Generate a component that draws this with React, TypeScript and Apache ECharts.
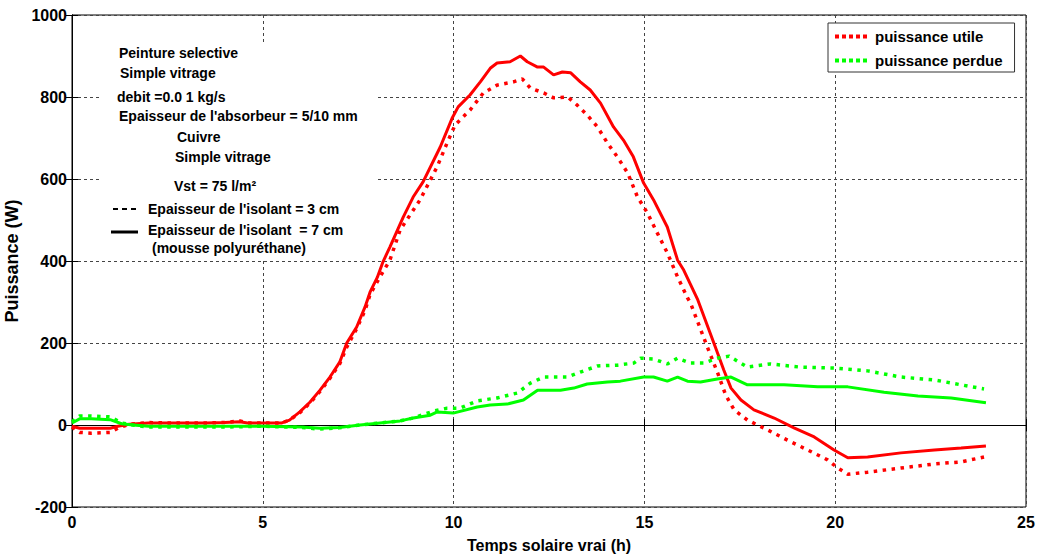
import React, { useEffect, useRef } from "react";
import * as echarts from "echarts";

// [time (h), power (W)]
const utile7cm: [number, number][] = [
  [0, -3], [0.2, -8], [0.5, -8], [1.0, -8], [1.2, -3], [1.5, 2], [2.0, 5], [2.5, 5], [3.0, 5], [3.5, 5],
  [4.0, 6], [4.4, 8], [4.6, 5], [5.0, 5], [5.5, 5], [5.7, 12], [5.97, 32], [6.24, 56], [6.5, 85], [6.76, 117],
  [7.02, 154], [7.2, 200], [7.46, 239], [7.68, 288], [7.81, 324], [8.0, 360], [8.15, 398], [8.33, 434],
  [8.68, 507], [8.94, 556], [9.2, 593], [9.65, 678], [9.96, 748], [10.12, 776], [10.43, 805], [10.7, 837],
  [10.96, 870], [11.14, 883], [11.48, 886], [11.75, 900], [11.93, 886], [12.2, 873], [12.36, 873],
  [12.62, 854], [12.85, 861], [13.07, 859], [13.32, 837], [13.58, 817], [13.85, 785], [14.19, 727],
  [14.45, 695], [14.71, 654], [14.98, 590], [15.24, 549], [15.6, 483], [15.87, 402], [16.03, 378],
  [16.4, 305], [16.82, 200], [17.08, 134], [17.27, 90], [17.53, 61], [17.87, 37], [18.4, 17], [18.92, -7],
  [19.45, -29], [19.97, -61], [20.33, -80], [20.85, -78], [21.72, -68], [22.6, -61], [23.3, -56], [23.95, -51],
];

const utile3cm: [number, number][] = [
  [0, -5], [0.2, -18], [0.5, -20], [1.0, -18], [1.2, -8], [1.5, 2], [2.0, 6], [2.5, 5], [3.0, 5], [3.5, 5],
  [4.0, 6], [4.4, 10], [4.6, 5], [5.0, 5], [5.5, 5], [5.7, 12], [5.97, 30], [6.24, 54], [6.5, 82], [6.76, 114],
  [7.02, 150], [7.2, 190], [7.46, 235], [7.68, 280], [7.81, 318], [8.07, 361], [8.33, 402], [8.6, 476],
  [9.12, 549], [9.57, 630], [9.83, 688], [10.04, 732], [10.43, 768], [10.78, 810], [11.14, 829], [11.57, 837],
  [11.8, 844], [12.01, 822], [12.36, 810], [12.62, 798], [12.99, 800], [13.24, 780], [13.5, 756], [13.77, 727],
  [14.03, 688], [14.29, 654], [14.56, 615], [14.82, 556], [15.08, 517], [15.34, 468], [15.6, 420], [15.87, 361],
  [16.13, 310], [16.21, 297], [16.65, 190], [16.92, 127], [17.13, 73], [17.35, 37], [17.7, 12], [18.23, -12],
  [18.75, -37], [19.28, -61], [19.8, -85], [20.07, -105], [20.33, -120], [20.85, -115], [21.72, -105],
  [22.6, -95], [23.3, -90], [23.9, -78],
];

const perdue7cm: [number, number][] = [
  [0, 5], [0.2, 15], [0.5, 15], [1.0, 13], [1.3, 3], [1.6, 0], [2.0, -3], [3.0, -3], [4.0, -3], [5.0, -3],
  [6.0, -5], [6.5, -8], [7.0, -6], [7.55, 0], [8.07, 5], [8.6, 10], [8.94, 17], [9.39, 24], [9.57, 32],
  [9.99, 29], [10.62, 44], [10.96, 49], [11.4, 51], [11.83, 61], [12.2, 85], [12.8, 85], [13.15, 90],
  [13.5, 100], [14.03, 105], [14.37, 107], [14.98, 117], [15.24, 117], [15.6, 107], [15.87, 117],
  [16.13, 107], [16.47, 105], [16.91, 112], [17.27, 117], [17.7, 98], [18.66, 98], [19.54, 93], [20.33, 93],
  [21.28, 80], [22.17, 71], [23.04, 66], [23.95, 54],
];

const perdue3cm: [number, number][] = [
  [0, 8], [0.2, 22], [0.5, 22], [1.0, 20], [1.3, 5], [1.6, 0], [2.0, -5], [3.0, -5], [4.0, -5], [5.0, -3],
  [6.0, -6], [6.5, -10], [7.0, -7], [7.55, 0], [8.07, 5], [8.6, 10], [8.94, 17], [9.48, 34], [9.83, 41],
  [10.17, 41], [10.62, 59], [11.14, 66], [11.67, 78], [12.01, 102], [12.36, 117], [12.99, 117], [13.32, 129],
  [13.77, 144], [14.29, 146], [14.72, 151], [14.9, 163], [15.24, 161], [15.6, 149], [15.87, 163],
  [16.21, 151], [16.55, 151], [16.91, 163], [17.22, 168], [17.7, 141], [18.3, 149], [19.1, 141],
  [19.97, 139], [20.85, 132], [21.72, 117], [22.6, 110], [23.47, 95], [23.9, 88],
];

const legendNames = ["puissance utile", "puissance perdue"];
const annotations = [
  "Peinture selective",
  "Simple vitrage",
  "debit =0.0 1 kg/s",
  "Epaisseur de l'absorbeur = 5/10 mm",
  "Cuivre",
  "Simple vitrage",
  "Vst = 75 l/m²",
  "Epaisseur de l'isolant = 3 cm",
  "Epaisseur de l'isolant  = 7 cm",
  "(mousse polyuréthane)",
];
const xAxisName = "Temps solaire vrai (h)";
const yAxisName = "Puissance (W)";

const FONT = '"Liberation Sans", Arial, sans-serif';
const DOTS_ICON = "path://M0,0h4v4h-4z M7,0h4v4h-4z M14,0h4v4h-4z M21,0h4v4h-4z M28,0h4v4h-4z";

export default function App() {
  const ref = useRef<HTMLDivElement>(null);
  useEffect(() => {
    if (!ref.current) return;
    const chart = echarts.init(ref.current, undefined, { renderer: "svg" });
    const annPos: [number, number][] = [
      [119, 53], [120, 73], [117, 97], [119, 116], [177, 137], [175, 157], [174, 186], [148, 209], [148, 230], [152, 248],
    ];
    const textEls: any[] = annotations.map((t, i) => ({
      type: "text",
      x: annPos[i][0],
      y: annPos[i][1],
      z: 100,
      style: { text: t, fill: "#000", font: `bold 14px ${FONT}`, verticalAlign: "middle" },
    }));
    const redLine = { color: "#ff0000", width: 3 };
    const greenLine = { color: "#00ff00", width: 3 };
    const dotted = [3.5, 5.5];
    const axisFmt = (v: number) => String(v);
    chart.setOption({
      animation: false,
      backgroundColor: "#fff",
      textStyle: { fontFamily: FONT },
      grid: {
        left: 72, right: 12, top: 15, bottom: 52, show: true, borderColor: "#000", borderWidth: 1,
        containLabel: false, outerBoundsMode: "none",
      },
      legend: {
        data: legendNames.map((n) => ({ name: n, icon: DOTS_ICON })),
        orient: "vertical",
        left: 828,
        top: 23,
        padding: [6, 12, 4, 7],
        itemGap: 9,
        itemWidth: 32,
        itemHeight: 4,
        backgroundColor: "#fff",
        borderColor: "#333",
        borderWidth: 1,
        textStyle: { fontSize: 15, fontWeight: "bold", color: "#000", fontFamily: FONT, padding: [0, 0, 0, 3] },
      },
      xAxis: [
        {
          type: "value",
          min: 0,
          max: 25,
          interval: 5,
          name: xAxisName,
          nameLocation: "middle",
          nameGap: 30,
          nameTextStyle: { fontSize: 16, fontWeight: "bold", color: "#000", fontFamily: FONT },
          axisLine: { show: true, lineStyle: { color: "#000", width: 1 } },
          axisTick: { show: true, inside: true, length: 6, lineStyle: { color: "#000" } },
          axisLabel: { fontSize: 16, fontWeight: "bold", color: "#000", margin: 7, fontFamily: FONT, formatter: axisFmt },
          splitLine: { show: true, lineStyle: { color: "#444", type: [3, 3], width: 1 } },
        },
        {
          type: "value",
          position: "top",
          min: 0,
          max: 25,
          interval: 5,
          axisLine: { show: true, lineStyle: { color: "#000" } },
          axisTick: { show: true, inside: true, length: 6, lineStyle: { color: "#000" } },
          axisLabel: { show: false },
          splitLine: { show: false },
        },
      ],
      yAxis: [
        {
          type: "value",
          min: -200,
          max: 1000,
          interval: 200,
          name: yAxisName,
          nameLocation: "middle",
          nameGap: 43,
          nameTextStyle: { fontSize: 18, fontWeight: "bold", color: "#000", fontFamily: FONT },
          axisLine: { show: true, lineStyle: { color: "#000", width: 1 } },
          axisTick: { show: true, inside: true, length: 6, lineStyle: { color: "#000" } },
          axisLabel: { fontSize: 16, fontWeight: "bold", color: "#000", margin: 5, fontFamily: FONT, formatter: axisFmt },
          splitLine: { show: true, lineStyle: { color: "#444", type: [3, 3], width: 1 } },
        },
        {
          type: "value",
          position: "right",
          min: -200,
          max: 1000,
          interval: 200,
          axisLine: { show: true, lineStyle: { color: "#000" } },
          axisTick: { show: true, inside: true, length: 6, lineStyle: { color: "#000" } },
          axisLabel: { show: false },
          splitLine: { show: false },
        },
      ],
      series: [
        { name: "puissance utile (7 cm)", type: "line", data: utile7cm, symbol: "none", lineStyle: redLine, itemStyle: { color: "#ff0000" }, z: 3 },
        { name: legendNames[0], type: "line", data: utile3cm, symbol: "none", lineStyle: { ...redLine, width: 3.5, type: dotted }, itemStyle: { color: "#ff0000" }, z: 3 },
        { name: "puissance perdue (7 cm)", type: "line", data: perdue7cm, symbol: "none", lineStyle: greenLine, itemStyle: { color: "#00ff00" }, z: 3 },
        { name: legendNames[1], type: "line", data: perdue3cm, symbol: "none", lineStyle: { ...greenLine, width: 3.5, type: dotted }, itemStyle: { color: "#00ff00" }, z: 3 },
      ],
      graphic: [
        { type: "rect", shape: { x: 101, y: 43, width: 275, height: 216 }, style: { fill: "#fff" }, z: 1 },
        ...textEls,
        { type: "line", shape: { x1: 113, y1: 209, x2: 138, y2: 209 }, style: { stroke: "#000", lineWidth: 2, lineDash: [5, 4] }, z: 100 },
        { type: "line", shape: { x1: 111, y1: 232, x2: 138, y2: 232 }, style: { stroke: "#000", lineWidth: 3 }, z: 100 },
      ],
    });
    return () => chart.dispose();
  }, []);
  return <div ref={ref} style={{ position: "fixed", left: 0, top: 0, width: 1038, height: 559 }} />;
}
